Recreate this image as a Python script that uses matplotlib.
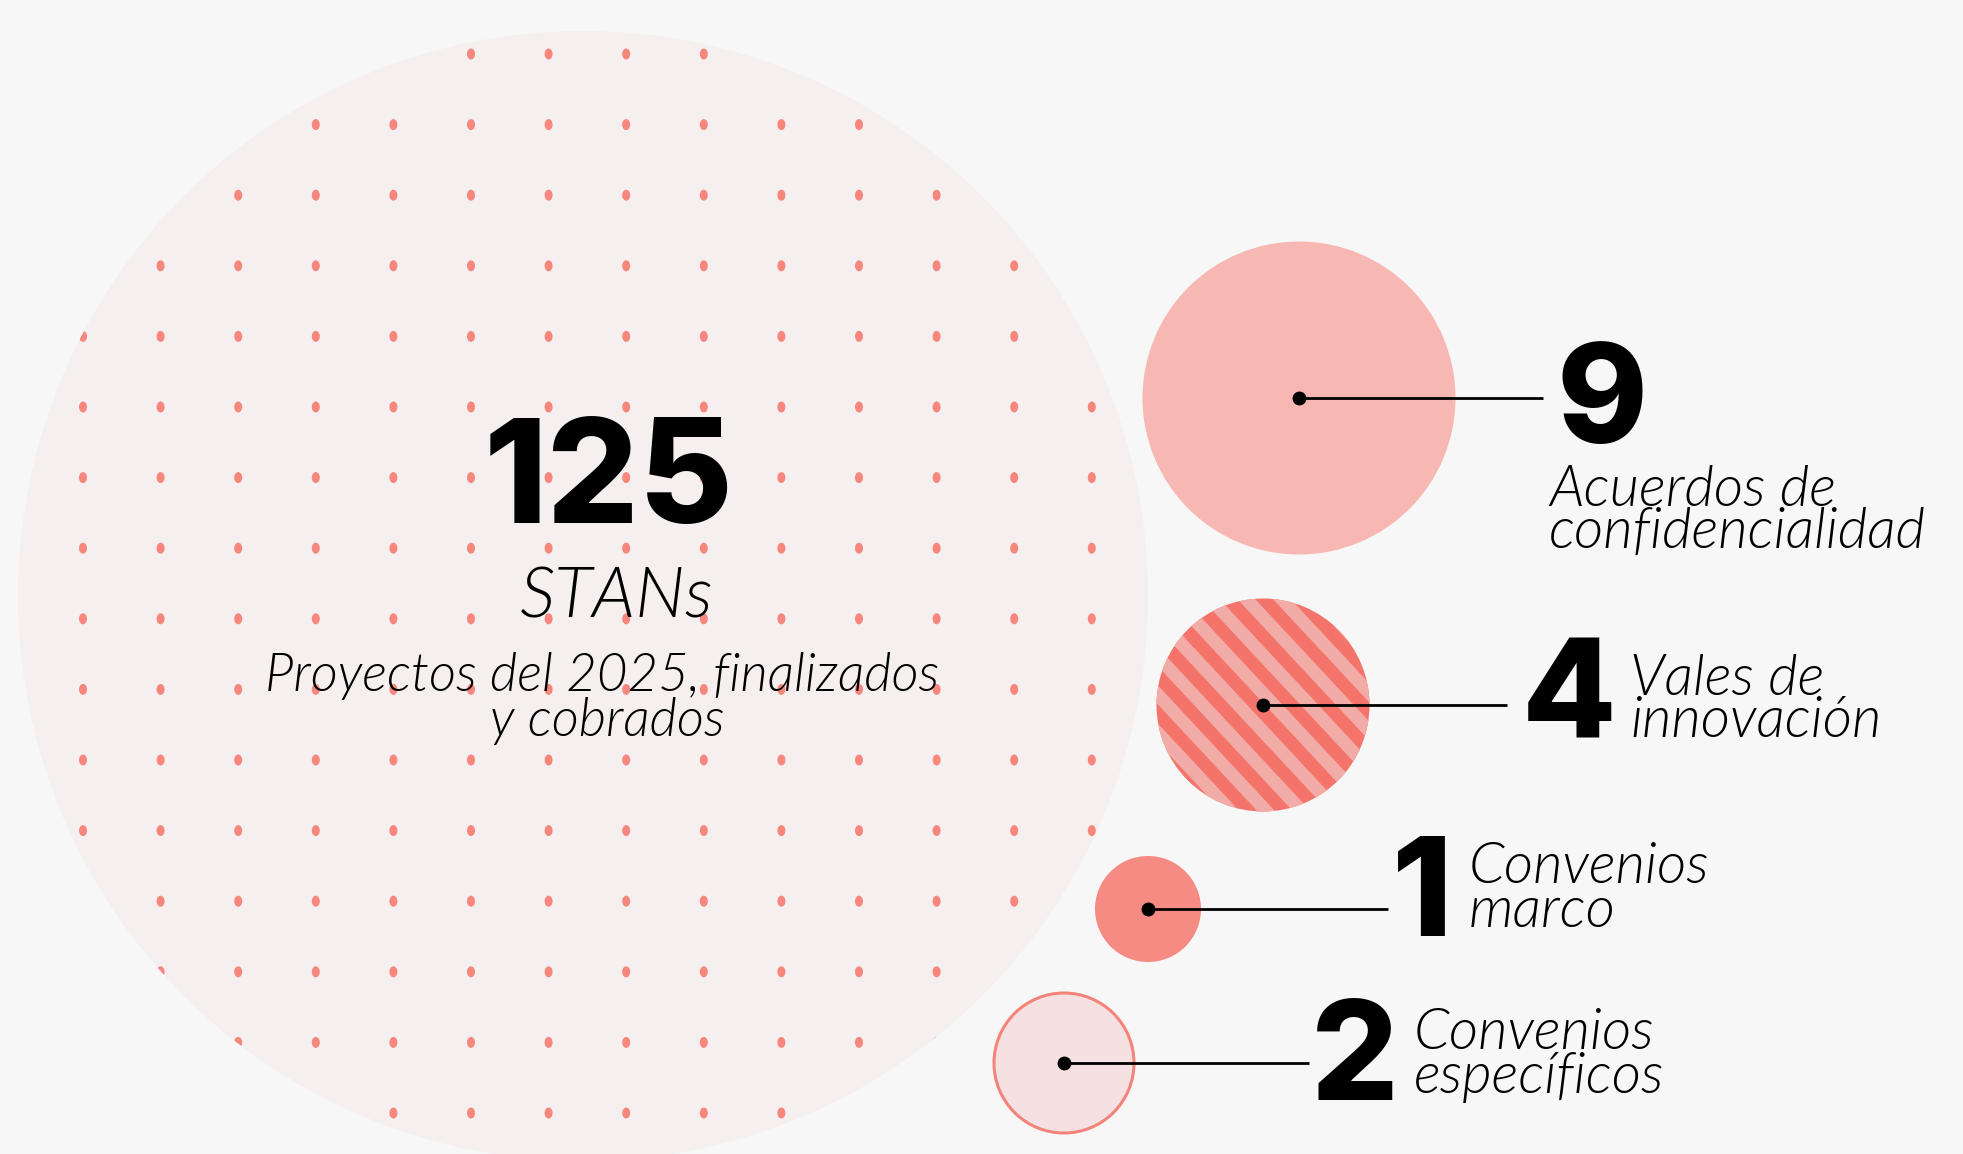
import os
import numpy as np
import matplotlib
matplotlib.use("Agg")
import matplotlib.pyplot as plt
import matplotlib.font_manager as fm
from matplotlib.patches import Circle, Ellipse, Polygon
from matplotlib.collections import PatchCollection

# ---------------- data ----------------
values = [125, 9, 4, 1, 2]
value_labels = ["125", "9", "4", "1", "2"]
main_title = "STANs"
main_subtitle = ["Proyectos del 2025, finalizados", "y cobrados"]
side_labels = [
    ["Acuerdos de", "confidencialidad"],
    ["Vales de", "innovación"],
    ["Convenios", "marco"],
    ["Convenios", "específicos"],
]

# ---------------- layout (pixels, y down) ----------------
W, H = 1963, 1154
BG = "#F7F7F7"
big_center = (583, 596)
big_radius = 565
small_centers = [(1299, 398), (1263, 705), (1148, 909), (1064, 1063)]
small_radii = [156.5, 106.5, 53, 70]
line_ends = [1543, 1507, 1388, 1309]
num_pos = [(1556, 442), (1522, 739), (1392, 936), (1311, 1100)]
lab_pos = [(1549, 506, 548), (1630, 695, 737), (1469, 883, 927), (1414, 1049, 1093)]


def weight_of(f):
    w = f.weight
    if isinstance(w, str):
        w = fm.weight_dict.get(w, 400)
    return int(w)


def find_by_file(names):
    fl = fm.fontManager.ttflist
    for nm in names:
        for f in fl:
            if os.path.basename(f.fname).lower().startswith(nm.lower()):
                return fm.FontProperties(fname=f.fname)
    return None


def find_font(cands):
    fl = fm.fontManager.ttflist
    for fam, wmin, wmax, style in cands:
        for f in fl:
            if f.name.startswith(fam) and f.style == style and wmin <= weight_of(f) <= wmax:
                return fm.FontProperties(fname=f.fname)
    return fm.FontProperties(family="DejaVu Sans")


bold_fp = find_by_file(["Inter-ExtraBold", "Inter-Bold."]) or find_font([
    ("Inter", 700, 900, "normal"), ("Roboto", 800, 900, "normal"),
    ("Lato", 800, 900, "normal"), ("Roboto", 700, 700, "normal"),
    ("DejaVu Sans", 700, 700, "normal"),
])
ital_fp = find_by_file(["Lato-LightItalic", "Lato-Light-Italic", "Lato-Italic"]) or find_font([
    ("Lato", 250, 350, "italic"), ("Roboto", 250, 300, "italic"),
    ("Open Sans", 250, 300, "italic"), ("Lato", 200, 400, "italic"),
    ("DejaVu Sans", 300, 400, "oblique"),
])

fig = plt.figure(figsize=(W / 100, H / 100), dpi=100, facecolor=BG)
ax = fig.add_axes([0, 0, 1, 1])
ax.set_xlim(0, W)
ax.set_ylim(H, 0)
ax.set_facecolor(BG)
ax.axis("off")

# big circle with dot pattern
big = Circle(big_center, big_radius, facecolor="#F5EFEF", edgecolor="none", zorder=1)
ax.add_patch(big)
xs = np.arange(83, 1140, 77.6)
ys = np.arange(54, 1154, 70.6)
dots = [Ellipse((x, y), 8, 11) for y in ys for x in xs]
pc = PatchCollection(dots, facecolor="#F7877C", edgecolor="none", zorder=2)
ax.add_collection(pc)
pc.set_clip_path(big)

# circle 9
ax.add_patch(Circle(small_centers[0], small_radii[0], facecolor="#F7B8B3", edgecolor="none", zorder=3))

# circle 4 (striped)
c4 = Circle(small_centers[1], small_radii[1], facecolor="#F4736A", edgecolor="none", zorder=3)
ax.add_patch(c4)
cx, cy = small_centers[1]
r4 = small_radii[1]
period = 26.0
ang = np.deg2rad(47)
d = np.array([np.cos(ang), np.sin(ang)])   # along stripes (down-right)
n = np.array([np.sin(ang), -np.cos(ang)])  # perpendicular
stripes = []
for t in np.arange(-r4 - period, r4 + period, period):
    p0 = np.array([cx, cy]) + n * (t + 4)
    q0 = np.array([cx, cy]) + n * (t + 4 + period / 2)
    L = 2 * r4
    poly = [p0 - d * L, p0 + d * L, q0 + d * L, q0 - d * L]
    stripes.append(Polygon(poly))
sc = PatchCollection(stripes, facecolor="#F2ACA7", edgecolor="none", zorder=4)
ax.add_collection(sc)
sc.set_clip_path(c4)

# circle 1
ax.add_patch(Circle(small_centers[2], small_radii[2], facecolor="#F68B83", edgecolor="none", zorder=3))
# circle 2
ax.add_patch(Circle(small_centers[3], small_radii[3], facecolor="#F5E1E1", edgecolor="#F4847A", linewidth=2.2, zorder=3))

# leader lines and center dots
for (x0, y0), xe in zip(small_centers, line_ends):
    ax.plot([x0, xe], [y0, y0], color="black", linewidth=2.0, zorder=6, solid_capstyle="butt")
    ax.plot([x0], [y0], marker="o", markersize=9, color="black", zorder=7)

# big text
ax.text(609, 523, value_labels[0], fontproperties=bold_fp, fontsize=104, ha="center", va="baseline", color="black", zorder=8)
ax.text(617, 617, main_title, fontproperties=ital_fp, fontsize=51, ha="center", va="baseline", color="black", zorder=8)
ax.text(602, 691, main_subtitle[0], fontproperties=ital_fp, fontsize=38, ha="center", va="baseline", color="black", zorder=8)
ax.text(607, 736, main_subtitle[1], fontproperties=ital_fp, fontsize=38, ha="center", va="baseline", color="black", zorder=8)

# side numbers and labels
for lbl, (nx, ny), (lx, ly1, ly2), lines in zip(value_labels[1:], num_pos, lab_pos, side_labels):
    ax.text(nx, ny, lbl, fontproperties=bold_fp, fontsize=99, ha="left", va="baseline", color="black", zorder=8)
    ax.text(lx, ly1, lines[0], fontproperties=ital_fp, fontsize=41, ha="left", va="baseline", color="black", zorder=8)
    ax.text(lx, ly2, lines[1], fontproperties=ital_fp, fontsize=41, ha="left", va="baseline", color="black", zorder=8)

fig.savefig("out.png", dpi=100, facecolor=BG)
